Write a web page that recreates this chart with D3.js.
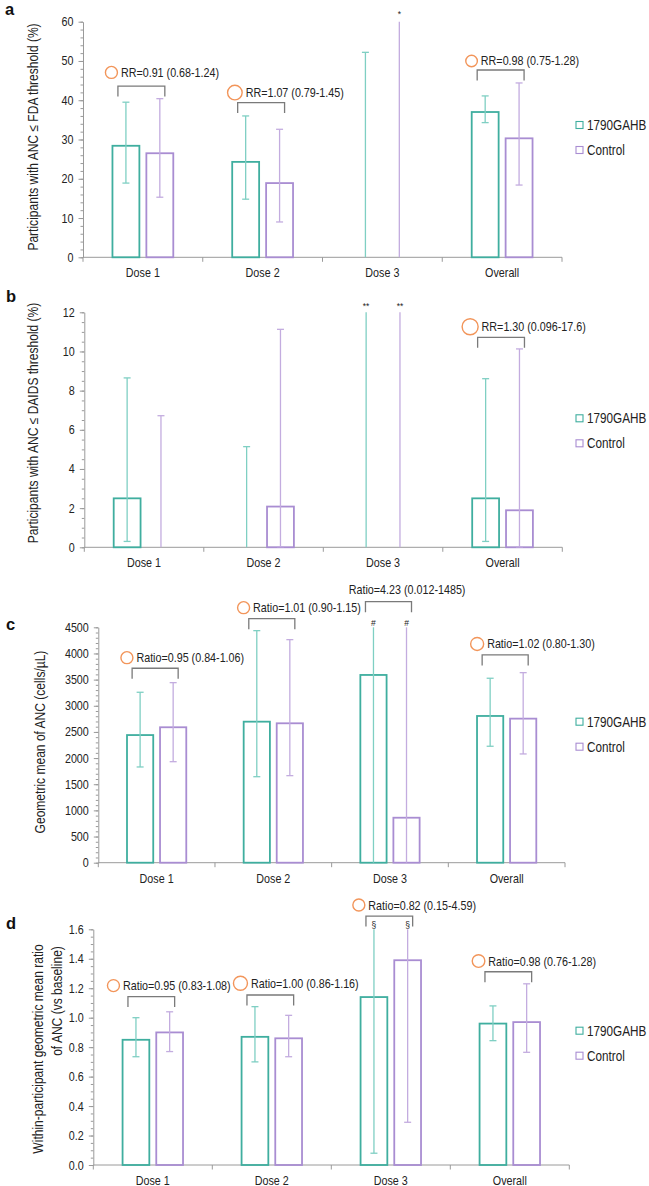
<!DOCTYPE html>
<html>
<head>
<meta charset="utf-8">
<script src="https://cdn.jsdelivr.net/npm/d3@7"></script>
<style>
  html, body { margin: 0; padding: 0; background: #ffffff; }
  svg { display: block; }
  text { font-family: "Liberation Sans", Arial, sans-serif; fill: #222; }
</style>
</head>
<body>
<svg id="chart" width="649" height="1186"></svg>
<script>
// ---------------- data ----------------
const categories = ["Dose 1", "Dose 2", "Dose 3", "Overall"];
const seriesNames = ["1790GAHB", "Control"];

// Panel a: participants with ANC <= FDA threshold (%)
const aGahb = [28.4, 24.3, 0, 37.0];
const aGahbLow = [18.9, 14.8, 0, 34.3];
const aGahbHigh = [39.5, 36.0, 52.2, 41.1];
const aCtrl = [26.5, 18.9, 0, 30.3];
const aCtrlLow = [15.3, 9.0, 0, 18.4];
const aCtrlHigh = [40.4, 32.6, 60, 44.4];
const aGahbMark = [null, null, null, null];
const aCtrlMark = [null, null, "*", null];
const aTicks = [0, 10, 20, 30, 40, 50, 60];
const aNoteText = ["RR=0.91 (0.68-1.24)", "RR=1.07 (0.79-1.45)", null, "RR=0.98 (0.75-1.28)"];
const aNoteLevel = [43.6, 39.4, null, 47.7];
const aNoteCircle = [true, true, false, true];

// Panel b: participants with ANC <= DAIDS threshold (%)
const bGahb = [2.5, 0, 0, 2.5];
const bGahbLow = [0.3, 0, 0, 0.3];
const bGahbHigh = [8.65, 5.14, 12, 8.61];
const bCtrl = [0, 2.08, 0, 1.89];
const bCtrlLow = [0, 0.03, 0, 0.02];
const bCtrlHigh = [6.72, 11.13, 12, 10.13];
const bGahbMark = [null, null, "**", null];
const bCtrlMark = [null, null, "**", null];
const bTicks = [0, 2, 4, 6, 8, 10, 12];
const bNoteText = [null, null, null, "RR=1.30 (0.096-17.6)"];
const bNoteLevel = [null, null, null, 10.72];
const bNoteCircle = [false, false, false, true];

// Panel c: geometric mean of ANC (cells/µL)
const cGahb = [2440, 2696, 3589, 2805];
const cGahbLow = [1830, 1644, 0, 2226];
const cGahbHigh = [3258, 4436, 4500, 3526];
const cCtrl = [2589, 2665, 860, 2754];
const cCtrlLow = [1931, 1664, 0, 2079];
const cCtrlHigh = [3442, 4264, 4500, 3633];
const cGahbMark = [null, null, "#", null];
const cCtrlMark = [null, null, "#", null];
const cTicks = [0, 500, 1000, 1500, 2000, 2500, 3000, 3500, 4000, 4500];
const cNoteText = ["Ratio=0.95 (0.84-1.06)", "Ratio=1.01 (0.90-1.15)", "Ratio=4.23 (0.012-1485)", "Ratio=1.02 (0.80-1.30)"];
const cNoteLevel = [3717, 4665, 4990, 3971];
const cNoteCircle = [true, true, false, true];

// Panel d: within-participant geometric mean ratio of ANC (vs baseline)
const dGahb = [0.85, 0.87, 1.14, 0.96];
const dGahbLow = [0.735, 0.70, 0.08, 0.844];
const dGahbHigh = [1.00, 1.075, 1.6, 1.08];
const dCtrl = [0.90, 0.86, 1.39, 0.97];
const dCtrlLow = [0.77, 0.735, 0.29, 0.765];
const dCtrlHigh = [1.04, 1.016, 1.6, 1.23];
const dGahbMark = [null, null, "§", null];
const dCtrlMark = [null, null, "§", null];
const dTicks = [0, 0.2, 0.4, 0.6, 0.8, 1.0, 1.2, 1.4, 1.6];
const dNoteText = ["Ratio=0.95 (0.83-1.08)", "Ratio=1.00 (0.86-1.16)", "Ratio=0.82 (0.15-4.59)", "Ratio=0.98 (0.76-1.28)"];
const dNoteLevel = [1.143, 1.154, 1.69, 1.312];
const dNoteCircle = [true, true, true, true];

// ---------------- styles ----------------
const TEAL = "#3fae9f", TEAL_ERR = "#7fcfc3";
const PURPLE = "#a98dd2", PURPLE_ERR = "#c3acdf";
const AXIS = "#9a9a9a", BRACKET = "#7a7a7a", ORANGE = "#f2955a";
const SQUISH = 0.86;

const svg = d3.select("#chart");

function drawPanel(cfg) {
  const g = svg.append("g");
  const x = d3.scaleBand().domain(categories).range([cfg.left, cfg.right]);
  const y = d3.scaleLinear().domain([0, cfg.max]).range([cfg.bottom, cfg.top]);
  const bw = x.bandwidth();
  const xi = d3.scaleBand().domain(seriesNames).range([bw * 0.246, bw * 0.754]).paddingInner(0.206);

  // minor ticks
  const minor = d3.range(0, cfg.max + cfg.minorStep / 2, cfg.minorStep);
  const minorAxis = g.append("g").attr("transform", `translate(${cfg.left},0)`)
    .call(d3.axisLeft(y).tickValues(minor).tickSize(2.5).tickSizeOuter(0).tickFormat(""));
  minorAxis.selectAll("line").attr("stroke", AXIS);
  minorAxis.select(".domain").remove();

  const yAxis = g.append("g").attr("transform", `translate(${cfg.left},0)`)
    .call(d3.axisLeft(y).tickValues(cfg.ticks).tickSize(4.5).tickSizeOuter(0).tickPadding(5).tickFormat(cfg.fmt));
  yAxis.select(".domain").attr("stroke", AXIS);
  yAxis.selectAll("line").attr("stroke", AXIS);
  yAxis.selectAll("text").attr("class", "sq").style("font-size", "12.5px").attr("fill", "#222")
    .style("font-family", '"Liberation Sans", Arial, sans-serif');

  // x axis
  g.append("line").attr("x1", cfg.left).attr("x2", cfg.right)
    .attr("y1", y(0)).attr("y2", y(0)).attr("stroke", AXIS).attr("stroke-width", 1);
  const bounds = categories.map(c => x(c)).concat([cfg.right]);
  g.selectAll(".xt").data(bounds).join("line")
    .attr("x1", d => d).attr("x2", d => d)
    .attr("y1", y(0)).attr("y2", y(0) + 4.5).attr("stroke", AXIS);
  g.selectAll(".xl").data(categories).join("text")
    .attr("class", "sq")
    .attr("x", d => x(d) + bw / 2).attr("y", y(0) + 20)
    .attr("text-anchor", "middle").style("font-size", "12.5px").text(d => d);

  // series
  const series = [
    { name: seriesNames[0], vals: cfg.s1, lo: cfg.s1lo, hi: cfg.s1hi, mark: cfg.s1mark, col: TEAL, err: TEAL_ERR },
    { name: seriesNames[1], vals: cfg.s2, lo: cfg.s2lo, hi: cfg.s2hi, mark: cfg.s2mark, col: PURPLE, err: PURPLE_ERR }
  ];
  series.forEach(s => {
    const rows = categories.map((c, i) => ({ c, v: s.vals[i], lo: s.lo[i], hi: s.hi[i], m: s.mark[i] }));
    const cx = d => x(d.c) + xi(s.name) + xi.bandwidth() / 2;
    g.selectAll(null).data(rows.filter(d => d.v > 0)).join("rect")
      .attr("x", d => x(d.c) + xi(s.name)).attr("width", xi.bandwidth())
      .attr("y", d => y(d.v)).attr("height", d => y(0) - y(d.v))
      .attr("fill", "none").attr("stroke", s.col).attr("stroke-width", 1.8);
    g.selectAll(null).data(rows).join("line")
      .attr("x1", cx).attr("x2", cx).attr("y1", d => y(d.lo)).attr("y2", d => y(d.hi))
      .attr("stroke", s.err).attr("stroke-width", 1.3);
    g.selectAll(null).data(rows.filter(d => d.hi < cfg.max)).join("line")
      .attr("x1", d => cx(d) - 3.5).attr("x2", d => cx(d) + 3.5)
      .attr("y1", d => y(d.hi)).attr("y2", d => y(d.hi))
      .attr("stroke", s.err).attr("stroke-width", 1.3);
    g.selectAll(null).data(rows.filter(d => d.lo > 0)).join("line")
      .attr("x1", d => cx(d) - 3.5).attr("x2", d => cx(d) + 3.5)
      .attr("y1", d => y(d.lo)).attr("y2", d => y(d.lo))
      .attr("stroke", s.err).attr("stroke-width", 1.3);
    g.selectAll(null).data(rows.filter(d => d.m)).join("text")
      .attr("x", cx).attr("y", d => y(d.hi) + cfg.markDy)
      .attr("text-anchor", "middle").style("font-size", "8.5px").text(d => d.m);
  });

  // annotations
  categories.forEach((c, i) => {
    if (!cfg.noteText[i]) return;
    const x1 = x(c) + xi(seriesNames[0]) + xi.bandwidth() / 2 - 8;
    const x2 = x(c) + xi(seriesNames[1]) + xi.bandwidth() / 2 + 5;
    const yb = y(cfg.noteLevel[i]);
    g.append("path")
      .attr("d", `M${x1},${yb + 10.5}V${yb}H${x2}V${yb + 10.5}`)
      .attr("fill", "none").attr("stroke", BRACKET).attr("stroke-width", 1.3);
    const lay = cfg.noteLayout[i];
    const tx = x1 + lay.dx, ty = yb - lay.dy;
    g.append("text").attr("class", "sq")
      .attr("x", tx).attr("y", ty).attr("dy", "0.36em")
      .style("font-size", "12.5px").text(cfg.noteText[i]);
    if (cfg.noteCircle[i]) {
      const r = lay.r;
      g.append("circle").attr("cx", tx - r - 3.5).attr("cy", ty).attr("r", r)
        .attr("fill", "none").attr("stroke", ORANGE).attr("stroke-width", 1.4);
    }
  });

  // legend
  const ly = [cfg.legendY, cfg.legendY + 25];
  series.forEach((s, i) => {
    g.append("rect").attr("x", 576).attr("y", ly[i] - 3.5).attr("width", 7).attr("height", 7)
      .attr("fill", "#fff").attr("stroke", s.col).attr("stroke-width", 1.1);
    g.append("text").attr("class", "sql").attr("x", 587).attr("y", ly[i]).attr("dy", "0.36em")
      .style("font-size", "13.8px").text(s.name);
  });

  // y label
  cfg.ylabel.forEach((t, k) => {
    g.append("text").attr("class", "sq")
      .attr("transform", `translate(${cfg.ylabelX[k]},${cfg.ylabelY[k]}) rotate(-90)`)
      .attr("text-anchor", "middle").attr("dy", "0.36em")
      .style("font-size", "14px").text(t);
  });

  // panel letter
  g.append("text").attr("x", cfg.letterX).attr("y", cfg.letterY)
    .style("font-size", "16.5px").style("font-weight", "bold").style("fill", "#111").text(cfg.letter);
}

drawPanel({
  letter: "a", letterX: 5, letterY: 15,
  left: 83, right: 562, top: 21.7, bottom: 257.3, max: 60,
  ticks: aTicks, minorStep: 2, fmt: d3.format("d"),
  s1: aGahb, s1lo: aGahbLow, s1hi: aGahbHigh, s1mark: aGahbMark,
  s2: aCtrl, s2lo: aCtrlLow, s2hi: aCtrlHigh, s2mark: aCtrlMark,
  markDy: -5,
  noteText: aNoteText, noteLevel: aNoteLevel, noteCircle: aNoteCircle,
  noteLayout: [{ dx: 3, dy: 13.7, r: 6 }, { dx: 8, dy: 10, r: 7.3 }, null, { dx: 3.7, dy: 9, r: 5.8 }],
  legendY: 125,
  ylabel: ["Participants with ANC \u2264 FDA threshold (%)"], ylabelX: [33], ylabelY: [137]
});

drawPanel({
  letter: "b", letterX: 6, letterY: 302,
  left: 84.3, right: 562.3, top: 312.3, bottom: 547.3, max: 12,
  ticks: bTicks, minorStep: 0.5, fmt: d3.format("d"),
  s1: bGahb, s1lo: bGahbLow, s1hi: bGahbHigh, s1mark: bGahbMark,
  s2: bCtrl, s2lo: bCtrlLow, s2hi: bCtrlHigh, s2mark: bCtrlMark,
  markDy: -3,
  noteText: bNoteText, noteLevel: bNoteLevel, noteCircle: bNoteCircle,
  noteLayout: [null, null, null, { dx: 4, dy: 10.6, r: 8 }],
  legendY: 418.3,
  ylabel: ["Participants with ANC \u2264 DAIDS threshold (%)"], ylabelX: [33.3], ylabelY: [423]
});

drawPanel({
  letter: "c", letterX: 6, letterY: 630,
  left: 98.3, right: 565, top: 627.3, bottom: 862.7, max: 4500,
  ticks: cTicks, minorStep: 100, fmt: d3.format("d"),
  s1: cGahb, s1lo: cGahbLow, s1hi: cGahbHigh, s1mark: cGahbMark,
  s2: cCtrl, s2lo: cCtrlLow, s2hi: cCtrlHigh, s2mark: cCtrlMark,
  markDy: -1,
  noteText: cNoteText, noteLevel: cNoteLevel, noteCircle: cNoteCircle,
  noteLayout: [{ dx: 4.3, dy: 10.6, r: 6 }, { dx: 4.3, dy: 11, r: 6 }, { dx: -16.7, dy: 12.4, r: 0 }, { dx: 5, dy: 11, r: 6.5 }],
  legendY: 721.7,
  ylabel: ["Geometric mean of ANC (cells/\u00b5L)"], ylabelX: [40], ylabelY: [742]
});

drawPanel({
  letter: "d", letterX: 6, letterY: 929,
  left: 93.3, right: 569.3, top: 929.3, bottom: 1165, max: 1.6,
  ticks: dTicks, minorStep: 0.05, fmt: d3.format(".1f"),
  s1: dGahb, s1lo: dGahbLow, s1hi: dGahbHigh, s1mark: dGahbMark,
  s2: dCtrl, s2lo: dCtrlLow, s2hi: dCtrlHigh, s2mark: dCtrlMark,
  markDy: -1,
  noteText: dNoteText, noteLevel: dNoteLevel, noteCircle: dNoteCircle,
  noteLayout: [{ dx: -5, dy: 11, r: 6 }, { dx: 4, dy: 11.7, r: 7 }, { dx: 2.4, dy: 11, r: 6 }, { dx: 3.4, dy: 10.7, r: 6.3 }],
  legendY: 1030.7,
  ylabel: ["Within-participant geometric mean ratio", "of ANC (vs baseline)"],
  ylabelX: [37.7, 56.5], ylabelY: [1049, 1001]
});

// condense text horizontally (about its anchor point) to mimic the narrow sans of the original
function condense(sel, k) {
  sel.each(function () {
    const el = d3.select(this);
    const tx = +(el.attr("x") || 0), ty = +(el.attr("y") || 0);
    const t = el.attr("transform") || "";
    el.attr("transform", `${t} translate(${tx},${ty}) scale(${k},1) translate(${-tx},${-ty})`.trim());
  });
}
condense(svg.selectAll("text.sq"), SQUISH);
condense(svg.selectAll("text.sql"), 0.85);
</script>
</body>
</html>
